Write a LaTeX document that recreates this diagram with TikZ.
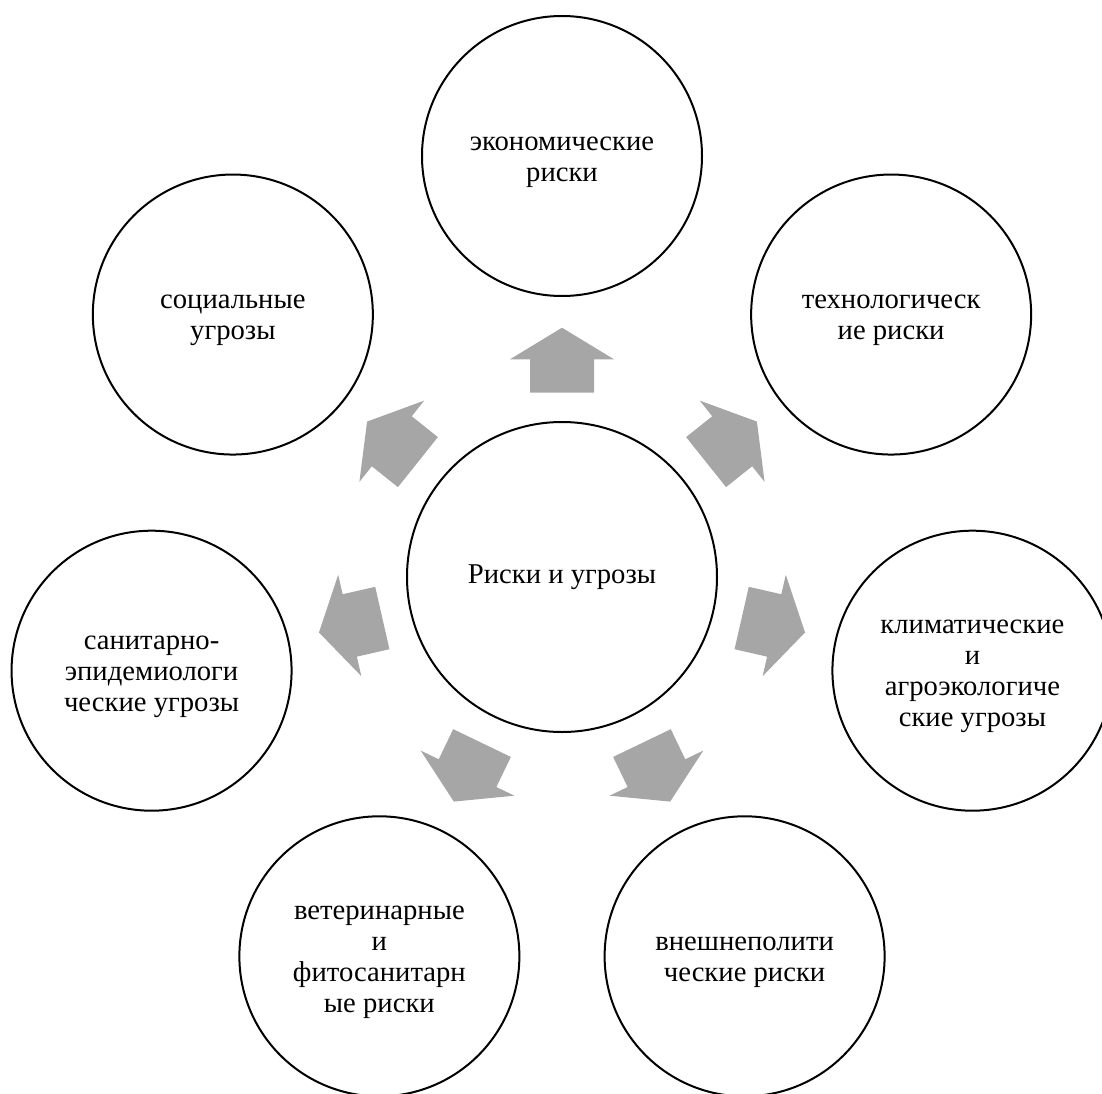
\documentclass[tikz,border=0pt]{standalone}
\usepackage{fontspec}
\setmainfont{Liberation Serif}
\usepackage{tikz}
\definecolor{arrowgray}{RGB}{166, 166, 166}
\tikzstyle{risk} = [
  circle,
  draw,
  line width=1.5pt,
  minimum size=210pt,
  inner sep=0pt,
  align=center,
  font=\fontsize{21.5}{23.25}\selectfont,
]
\tikzstyle{risktext} = [
  align=center,
  inner sep=0pt,
  yshift=-4.5pt,
  font=\fontsize{21.5}{23.25}\selectfont,
]
\tikzstyle{hub} = [risk, minimum size=232.5pt]
\tikzstyle{spoke} = [fill=arrowgray, draw=none]

\begin{document}
\begin{tikzpicture}[x=0.75pt, y=0.75pt]

      \clip (-562,-516) rectangle (540,577);

      \node[hub] (risks) at (0,0) {Риски и угрозы};

      \node[risk, label={[risktext]center:экономические\\риски}] (econ) at (90:421) {};
      \node[risk, label={[risktext]center:социальные\\угрозы}] (social) at (141.43:421) {};
      \node[risk, label={[risktext]center:санитарно-\\эпидемиологи\\ческие угрозы}] (sanit) at (192.86:421) {};
      \node[risk, label={[risktext]center:ветеринарные\\и\\фитосанитарн\\ые риски}] (vet) at (244.29:421) {};
      \node[risk, label={[risktext]center:внешнеполити\\ческие риски}] (foreign) at (295.71:421) {};
      \node[risk, label={[risktext]center:климатические\\и\\агроэкологиче\\ские угрозы}] (clim) at (347.14:421) {};
      \node[risk, label={[risktext]center:технологическ\\ие риски}] (tech) at (38.57:421) {};

      \foreach \k in {0,...,6}
        \fill[spoke, rotate=\k*360/7] (-32,184.3) -- (32,184.3) -- (32,217.7) -- (52,217.7)
          -- (0,249.3) -- (-52,217.7) -- (-32,217.7) -- cycle;

\end{tikzpicture}
\end{document}
